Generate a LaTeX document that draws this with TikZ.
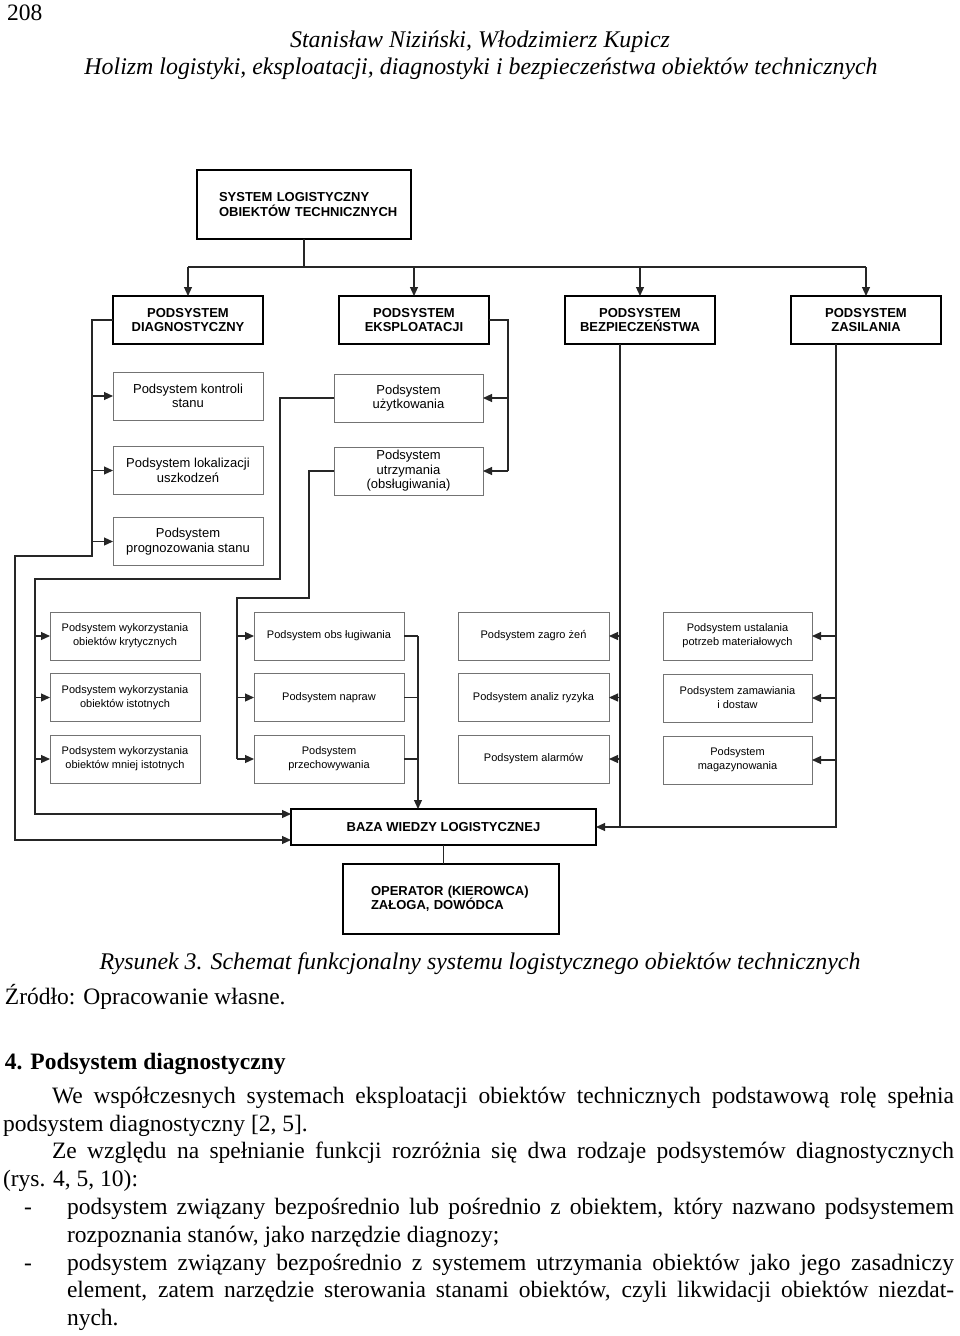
\documentclass[tikz,border=0pt]{standalone}
\usepackage{fontspec}
\setmainfont{Liberation Serif}
\newfontfamily\arialf{Liberation Sans}
\usetikzlibrary{arrows.meta}
\begin{document}
\begin{tikzpicture}[x=1pt,y=-1pt,
  every node/.style={inner sep=0pt, outer sep=0pt},
  mainbox/.style={draw=black, line width=2.4pt, align=center, font=\arialf\bfseries\fontsize{13}{14.5}\selectfont},
  subbox/.style={draw=black!55, line width=1pt, align=center, font=\arialf\fontsize{13}{14.5}\selectfont, minimum width=150pt, minimum height=48pt},
  smallbox/.style={subbox, font=\arialf\fontsize{11}{14}\selectfont},
  conn/.style={line width=1.1pt, black!85},
  arr/.style={conn, -{Triangle[length=9pt,width=8pt]}},
  txt/.style={anchor=base west, font=\fontsize{23.5}{27.8}\selectfont},
  ctxt/.style={anchor=base, font=\itshape\fontsize{23.9}{27.8}\selectfont},
]
\fill[white] (0,0) rectangle (960,1336);
\useasboundingbox (0,0) rectangle (960,1336);

% header
\node[txt] (pg) at (7,20) {208};
\node[ctxt] (au) at (480,47) {Stanisław Niziński, Włodzimierz Kupicz};
\node[ctxt] (ti) at (481,74) {Holizm logistyki, eksploatacji, diagnostyki i bezpieczeństwa obiektów technicznych};

% top level
\node[mainbox, minimum width=214pt, minimum height=69pt, text width=170pt, align=left] (top) at (304,204.5) {\mbox{SYSTEM LOGISTYCZNY}\\\mbox{OBIEKTÓW TECHNICZNYCH}};

\node[mainbox, minimum width=150pt, minimum height=48pt] (diag) at (188,320) {PODSYSTEM\\DIAGNOSTYCZNY};
\node[mainbox, minimum width=150pt, minimum height=48pt] (eksp) at (414,320) {PODSYSTEM\\EKSPLOATACJI};
\node[mainbox, minimum width=150pt, minimum height=48pt] (bezp) at (640,320) {PODSYSTEM\\BEZPIECZEŃSTWA};
\node[mainbox, minimum width=150pt, minimum height=48pt] (zas) at (866,320) {PODSYSTEM\\ZASILANIA};

% second level
\node[subbox] (kon) at (188,396) {Podsystem kontroli\\stanu};
\node[subbox] (lok) at (188,470.5) {Podsystem lokalizacji\\uszkodzeń};
\node[subbox] (pro) at (188,541.5) {Podsystem\\prognozowania stanu};
\node[subbox, minimum width=149pt] (uzy) at (408.5,398) {Podsystem\\użytkowania};
\node[subbox, minimum width=149pt] (utr) at (408.5,471) {Podsystem\\utrzymania\\(obsługiwania)};

% third level
\node[smallbox] (w1) at (125,636) {Podsystem wykorzystania\\obiektów krytycznych};
\node[smallbox] (w2) at (125,697.5) {Podsystem wykorzystania\\obiektów istotnych};
\node[smallbox] (w3) at (125,759) {Podsystem wykorzystania\\obiektów mniej istotnych};
\node[smallbox] (o1) at (329,636) {Podsystem obs ługiwania};
\node[smallbox] (o2) at (329,697.5) {Podsystem napraw};
\node[smallbox] (o3) at (329,759) {Podsystem\\przechowywania};
\node[smallbox, minimum width=151pt] (z1) at (533.5,636) {Podsystem zagro żeń};
\node[smallbox, minimum width=151pt] (z2) at (533.5,697.5) {Podsystem analiz ryzyka};
\node[smallbox, minimum width=151pt] (z3) at (533.5,759) {Podsystem alarmów};
\node[smallbox, minimum width=149pt] (m1) at (737.5,636) {Podsystem ustalania\\potrzeb materiałowych};
\node[smallbox, minimum width=149pt] (m2) at (737.5,698) {Podsystem zamawiania\\i dostaw};
\node[smallbox, minimum width=149pt] (m3) at (737.5,760) {Podsystem\\magazynowania};

\node[mainbox, minimum width=305pt, minimum height=36pt] (baza) at (443.5,827) {BAZA WIEDZY LOGISTYCZNEJ};
\node[mainbox, minimum width=216pt, minimum height=70pt, text width=160pt, align=left] (op) at (451,899) {\mbox{OPERATOR (KIEROWCA)}\\\mbox{ZAŁOGA, DOWÓDCA}};

% connectors: top bus
\draw[conn] (top.south) -- ++(0,28) coordinate (bus);
\draw[conn] (diag.north |- bus) -- (zas.north |- bus);
\draw[arr] (diag.north |- bus) -- (diag.north);
\draw[arr] (eksp.north |- bus) -- (eksp.north);
\draw[arr] (bezp.north |- bus) -- (bezp.north);
\draw[arr] (zas.north |- bus) -- (zas.north);

% diagnostic subsystem
\coordinate (dL) at (92,320);
\draw[arr] (diag.west) -- (dL) -- (92,556) -- (15,556) -- (15,840) -- (baza.west |- 15,840);
\draw[arr] (dL |- kon.west) -- (kon.west);
\draw[arr] (dL |- lok.west) -- (lok.west);
\draw[arr] (dL |- pro.west) -- (pro.west);

% exploitation subsystem
\coordinate (eR) at (508,320);
\draw[conn] (eksp.east) -- (eR) -- (eR |- utr.east);
\draw[arr] (eR |- uzy.east) -- (uzy.east);
\draw[arr] (eR |- utr.east) -- (utr.east);

% uzytkowania
\coordinate (uL) at (35,579);
\draw[arr] (uzy.west) -- (280,398) -- (280,579) -- (uL) -- (35,814) -- (baza.west |- 35,814);
\draw[arr] (uL |- w1.west) -- (w1.west);
\draw[arr] (uL |- w2.west) -- (w2.west);
\draw[arr] (uL |- w3.west) -- (w3.west);

% utrzymania
\coordinate (tL) at (237,598);
\draw[conn] (utr.west) -- (309,471) -- (309,598) -- (tL) -- (tL |- o3.west);
\draw[arr] (tL |- o1.west) -- (o1.west);
\draw[arr] (tL |- o2.west) -- (o2.west);
\draw[arr] (tL |- o3.west) -- (o3.west);
\coordinate (oR) at (418,636);
\draw[conn] (o1.east) -- (oR);
\draw[conn] (o2.east) -- (oR |- o2.east);
\draw[conn] (o3.east) -- (oR |- o3.east);
\draw[arr] (oR) -- (oR |- baza.north);

% bezpieczenstwa
\coordinate (bz) at (620,344);
\draw[conn] (bz) -- (bz |- baza.east);
\draw[arr] (bz |- z1.east) -- (z1.east);
\draw[arr] (bz |- z2.east) -- (z2.east);
\draw[arr] (bz |- z3.east) -- (z3.east);

% zasilania
\coordinate (zs) at (836,344);
\draw[arr] (zs) -- (zs |- baza.east) -- (baza.east);
\draw[arr] (zs |- m1.east) -- (m1.east);
\draw[arr] (zs |- m2.east) -- (m2.east);
\draw[arr] (zs |- m3.east) -- (m3.east);

% baza to operator
\draw[conn] (baza.south) -- (baza.south |- op.north);

% caption and text
\node[ctxt] (cap) at (480,969) {Rysunek 3. Schemat funkcjonalny systemu logistycznego obiektów technicznych};
\node[txt] (src) at (5,1004) {Źródło: Opracowanie własne.};
\node[txt, font=\bfseries\fontsize{23.5}{27.8}\selectfont] (hd) at (5,1069) {4. Podsystem diagnostyczny};
\node[txt] (l1) at (52,1103) {\hbox to 902pt{We współczesnych systemach eksploatacji obiektów technicznych podstawową rolę spełnia}};
\node[txt] (l2) at (3,1131) {podsystem diagnostyczny [2, 5].};
\node[txt] (l3) at (52,1158) {\hbox to 902pt{Ze względu na spełnianie funkcji rozróżnia się dwa rodzaje podsystemów diagnostycznych}};
\node[txt] (l4) at (3,1186) {(rys. 4, 5, 10):};
\node[txt] (d1) at (24,1214) {-};
\node[txt] (l5) at (67,1214) {\hbox to 887pt{podsystem związany bezpośrednio lub pośrednio z obiektem, który nazwano podsystemem}};
\node[txt] (l6) at (67,1242) {rozpoznania stanów, jako narzędzie diagnozy;};
\node[txt] (d2) at (24,1270) {-};
\node[txt] (l7) at (67,1270) {\hbox to 887pt{podsystem związany bezpośrednio z systemem utrzymania obiektów jako jego zasadniczy}};
\node[txt] (l8) at (67,1297) {\hbox to 887pt{element, zatem narzędzie sterowania stanami obiektów, czyli likwidacji obiektów niezdat-}};
\node[txt] (l9) at (67,1325) {nych.};
\end{tikzpicture}
\end{document}
